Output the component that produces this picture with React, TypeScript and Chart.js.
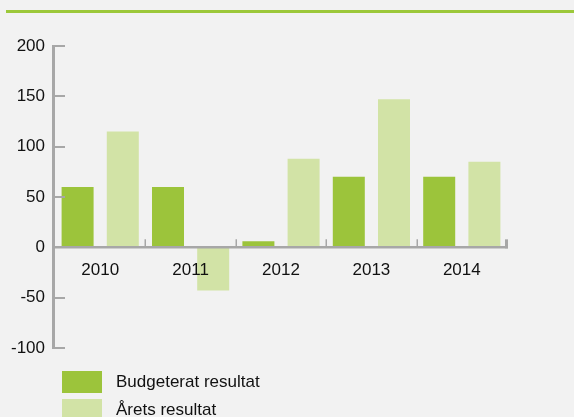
import React, { useEffect, useRef } from "react";
import { Chart, registerables } from "chart.js";

Chart.register(...registerables);

const categories = ["2010", "2011", "2012", "2013", "2014"];
const budgetValues = [60, 60, 6, 70, 70];
const actualValues = [115, -43, 88, 147, 85];
const seriesLabels = ["Budgeterat resultat", "Årets resultat"];
const yTickValues = [-100, -50, 0, 50, 100, 150, 200];

const DARK = "#9cc43b";
const LIGHT = "#d2e3a6";
const AXIS = "#a7a7a7";
const TEXT = "#111111";
const FONT = "'Liberation Sans', Arial, sans-serif";

const axesPlugin = {
  id: "customAxes",
  afterDatasetsDraw(chart: any) {
    const ctx = chart.ctx;
    const { left, right, top, bottom } = chart.chartArea;
    const y = chart.scales.y;
    const x = chart.scales.x;
    ctx.save();
    ctx.strokeStyle = AXIS;
    ctx.lineWidth = 3;
    ctx.beginPath();
    ctx.moveTo(left - 1.5, top - 1);
    ctx.lineTo(left - 1.5, bottom + 1);
    ctx.stroke();
    ctx.lineWidth = 2;
    yTickValues.forEach((v) => {
      const py = Math.round(y.getPixelForValue(v));
      ctx.beginPath();
      ctx.moveTo(left - 3, py);
      ctx.lineTo(left + 10, py);
      ctx.stroke();
    });
    const zy = y.getPixelForValue(0);
    ctx.lineWidth = 2.5;
    ctx.beginPath();
    ctx.moveTo(left - 3, zy);
    ctx.lineTo(right + 1, zy);
    ctx.stroke();
    ctx.lineWidth = 1.5;
    for (let i = 1; i < categories.length; i++) {
      const px = (x.getPixelForValue(i - 1) + x.getPixelForValue(i)) / 2;
      ctx.beginPath();
      ctx.moveTo(Math.round(px) + 0.25, zy - 8);
      ctx.lineTo(Math.round(px) + 0.25, zy);
      ctx.stroke();
    }
    ctx.lineWidth = 3;
    ctx.beginPath();
    ctx.moveTo(right - 0.5, zy - 8);
    ctx.lineTo(right - 0.5, zy + 1);
    ctx.stroke();
    ctx.restore();
  },
  afterDraw(chart: any) {
    const ctx = chart.ctx;
    const { left, bottom } = chart.chartArea;
    ctx.save();
    ctx.font = `17px ${FONT}`;
    ctx.textBaseline = "middle";
    ctx.textAlign = "left";
    chart.data.datasets.forEach((ds: any, i: number) => {
      const by = bottom + 23 + i * 28;
      ctx.fillStyle = ds.backgroundColor;
      ctx.fillRect(left + 7, by, 40, 22);
      ctx.fillStyle = TEXT;
      ctx.fillText(ds.label, left + 61, by + 11.5);
    });
    ctx.restore();
  },
};

export default function App() {
  const ref = useRef<HTMLCanvasElement>(null);
  useEffect(() => {
    if (!ref.current) return;
    Chart.defaults.font.family = FONT;
    Chart.defaults.font.size = 17;
    Chart.defaults.color = TEXT;
    const chart = new Chart(ref.current, {
      type: "bar",
      data: {
        labels: categories,
        datasets: [
          { label: seriesLabels[0], data: budgetValues, backgroundColor: DARK },
          { label: seriesLabels[1], data: actualValues, backgroundColor: LIGHT },
        ],
      },
      options: {
        responsive: false,
        animation: false,
        layout: { padding: { top: 46, bottom: 69, left: 0, right: 67 } },
        plugins: { legend: { display: false }, tooltip: { enabled: false } },
        datasets: { bar: { categoryPercentage: 1, barPercentage: 0.708 } },
        scales: {
          x: {
            position: { y: 0 } as any,
            grid: { display: false, drawTicks: false },
            border: { display: false },
            ticks: { padding: 13, color: TEXT, font: { size: 17 }, z: 1 } as any,
          },
          y: {
            min: -100,
            max: 200,
            afterFit: (s: any) => {
              s.width = 55;
            },
            grid: { display: false, drawTicks: false },
            border: { display: false },
            ticks: { stepSize: 50, padding: 10, color: TEXT, font: { size: 17 } },
          },
        },
      },
      plugins: [axesPlugin],
    });
    return () => chart.destroy();
  }, []);
  return (
    <div
      style={{
        position: "absolute",
        left: 0,
        top: 0,
        width: 574,
        height: 417,
        background: "#f2f2f2",
        overflow: "hidden",
      }}
    >
      <div
        style={{
          position: "absolute",
          left: 6,
          top: 10,
          right: 0,
          height: 3,
          background: "#9cc83a",
        }}
      />
      <canvas ref={ref} width={574} height={417} style={{ display: "block" }} />
    </div>
  );
}
